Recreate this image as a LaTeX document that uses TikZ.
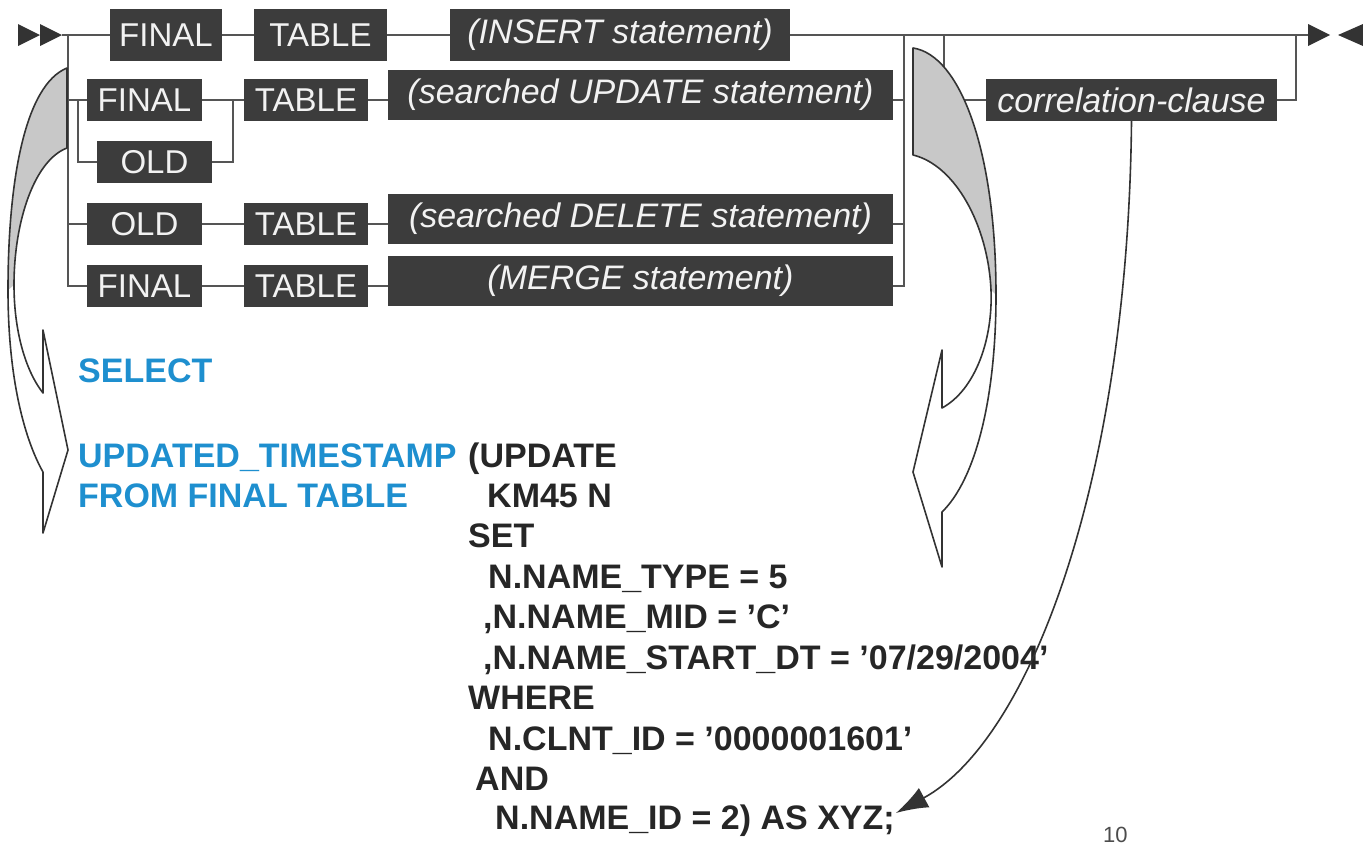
\documentclass[tikz,border=0pt]{standalone}
\usepackage{fontspec}
\setmainfont{Liberation Sans}
\usetikzlibrary{arrows.meta}
\definecolor{boxgray}{HTML}{3C3C3C}
\definecolor{boxtext}{HTML}{F2F2F2}
\definecolor{railgray}{HTML}{555555}
\definecolor{tipgray}{HTML}{333333}
\definecolor{shadegray}{HTML}{C8C8C8}
\definecolor{sqlblue}{HTML}{1E8FCF}
\definecolor{sqlblack}{HTML}{262626}
\tikzstyle{kw} = [fill=boxgray, text=boxtext, inner sep=0pt, minimum height=42pt, font={\fontsize{33}{33}\selectfont}]
\tikzstyle{stmt} = [kw, minimum height=50pt, font={\fontsize{34}{34}\selectfont\itshape}]
\tikzstyle{rail} = [draw=railgray, line width=2.2pt]
\tikzstyle{curl} = [draw=black!80, line width=1.6pt, line join=round]
\tikzstyle{sql} = [anchor=base west, inner sep=0pt, text=sqlblack, font={\fontsize{34}{34}\selectfont\bfseries}]
\tikzstyle{sqlkey} = [sql, text=sqlblue]

\begin{document}
\begin{tikzpicture}[x=1pt,y=-1pt]
  \useasboundingbox (0,0) rectangle (1363,844);
  \clip (0,0) rectangle (1363,844);
  \node[kw,minimum width=112pt,minimum height=52pt](fin1) at (166,35){FINAL};
  \node[kw,minimum width=133pt,minimum height=52pt](tab1) at (320.5,35){TABLE};
  \node[stmt,minimum width=340pt,minimum height=52pt](ins) at (620,35){(INSERT statement)};
  \node[kw,minimum width=115pt](fin2) at (144.5,100){FINAL};
  \node[kw,minimum width=124pt](tab2) at (306,100){TABLE};
  \node[stmt,minimum width=505pt](upd) at (640.5,95){(searched UPDATE statement)};
  \node[kw,minimum width=115pt](old2) at (154.5,162){OLD};
  \node[kw,minimum width=115pt](old3) at (144.5,224){OLD};
  \node[kw,minimum width=124pt](tab3) at (306,224){TABLE};
  \node[stmt,minimum width=505pt](del) at (640.5,219){(searched DELETE statement)};
  \node[kw,minimum width=115pt](fin4) at (144.5,286){FINAL};
  \node[kw,minimum width=124pt](tab4) at (306,286){TABLE};
  \node[stmt,minimum width=505pt](mrg) at (640.5,281){(MERGE statement)};
  \node[stmt,minimum width=291pt,minimum height=42pt](corr) at (1131.5,100){correlation-clause};
  \coordinate (start) at (62,35);
  \coordinate (lsplit) at (68,35);
  \coordinate (isplit) at (78,100);
  \coordinate (ijoin) at (233,100);
  \coordinate (rjoin) at (904,35);
  \coordinate (csplit) at (944,35);
  \coordinate (cjoin) at (1296,35);
  \coordinate (stop) at (1308,35);
  \draw[rail] (start) -- (fin1) -- (tab1) -- (ins) -- (stop);
  \draw[rail] (lsplit) |- (fin4);
  \draw[rail] (lsplit) |- (fin2);
  \draw[rail] (lsplit) |- (old3);
  \draw[rail] (isplit) |- (old2);
  \draw[rail] (old2) -| (ijoin);
  \draw[rail] (fin2) -- (tab2) -- (upd.west |- tab2);
  \draw[rail] (old3) -- (tab3) -- (del.west |- tab3);
  \draw[rail] (fin4) -- (tab4) -- (mrg.west |- tab4);
  \draw[rail] (upd.east |- tab2) -| (rjoin);
  \draw[rail] (del.east |- tab3) -| (rjoin);
  \draw[rail] (mrg.east |- tab4) -| (rjoin);
  \draw[rail] (csplit) |- (corr);
  \draw[rail] (corr) -| (cjoin);
  \fill[tipgray] (18,24) -- (40,35) -- (18,46) -- cycle;
  \fill[tipgray] (40,24) -- (62,35) -- (40,46) -- cycle;
  \fill[tipgray] (1308,24) -- (1330,35) -- (1308,46) -- cycle;
  \fill[tipgray] (1363,24) -- (1338,35) -- (1363,46) -- cycle;
  \fill[shadegray] (67,68) .. controls (25,85) and (8,180) .. (8,290) -- (14,285) .. controls (14,220) and (35,160) .. (67,148) -- cycle;
  \draw[curl] (67,68) .. controls (25,85) and (8,180) .. (8,290) .. controls (8,380) and (25,440) .. (43,472) -- (43,533) -- (68,450) -- (43,330) -- (43,393) .. controls (25,370) and (14,330) .. (14,285) .. controls (14,220) and (35,160) .. (67,148) -- cycle;
  \fill[shadegray] (913,48) .. controls (960,55) and (996,150) .. (996,295) -- (991,290) .. controls (988,225) and (955,165) .. (913,155) -- cycle;
  \draw[curl] (913,48) .. controls (960,55) and (996,150) .. (996,295) .. controls (996,400) and (975,480) .. (942,512) -- (942,567) -- (913,472) -- (942,350) -- (942,408) .. controls (975,390) and (993,340) .. (991,290) .. controls (988,225) and (955,165) .. (913,155) -- cycle;
  \node[sqlkey](sel) at (78,382){SELECT};
  \node[sqlkey](upts) at (78,467){UPDATED\_TIMESTAMP};
  \node[sqlkey](from) at (78,507){FROM FINAL TABLE};
  \node[sql](l1) at (468,467){(UPDATE};
  \node[sql](l2) at (487,507){KM45 N};
  \node[sql](l3) at (468,547){SET};
  \node[sql](l4) at (488,588){N.NAME\_TYPE = 5};
  \node[sql](l5) at (483,628){,N.NAME\_MID = 'C'};
  \node[sql](l6) at (483,669){,N.NAME\_START\_DT = '07/29/2004'};
  \node[sql](l7) at (468,709){WHERE};
  \node[sql](l8) at (488,750){N.CLNT\_ID = '0000001601'};
  \node[sql](l9) at (475,790){AND};
  \node[sql](l10) at (495,829){N.NAME\_ID = 2) AS XYZ;};
  \coordinate (xyz) at (896,813);
  \draw[curl,-{Latex[length=32pt,width=22pt]}] (corr.south) .. controls (1128,480) and (1030,740) .. (xyz);
  \node[anchor=base west,inner sep=0pt,text=black!70,font={\fontsize{22}{22}\selectfont}](pg) at (1103,842){10};
\end{tikzpicture}
\end{document}
